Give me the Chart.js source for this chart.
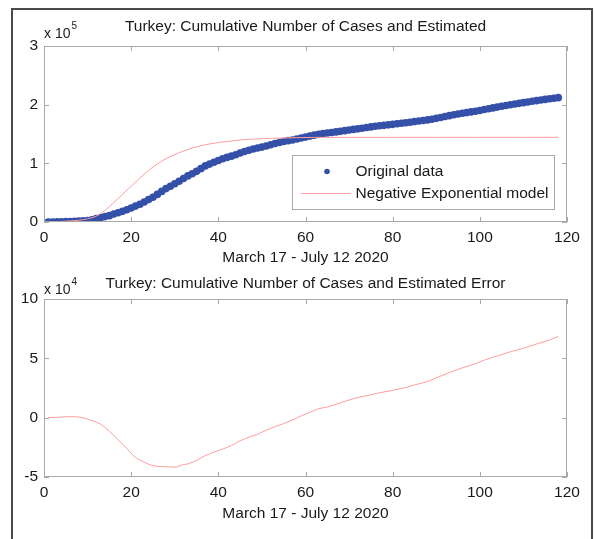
<!DOCTYPE html>
<html>
<head>
<meta charset="utf-8">
<title>Turkey cumulative cases</title>
<script src="https://cdn.jsdelivr.net/npm/chart.js@4.4.1/dist/chart.umd.min.js"></script>
<style>
  html, body { margin: 0; padding: 0; background: #fff; }
  #wrap { position: relative; width: 594px; height: 539px; overflow: hidden; background: #fff; }
  #frame { position: absolute; left: 11px; top: 8px; width: 582px; height: 600px; box-sizing: border-box; border: 2px solid #4a4a4a; }
  .panel { position: absolute; left: 0; width: 594px; }
</style>
</head>
<body>
<div id="wrap">
  <div id="frame"></div>
  <div class="panel" style="top:0;height:270px"><canvas id="casesChart" width="594" height="270"></canvas></div>
  <div class="panel" style="top:270px;height:269px"><canvas id="errorChart" width="594" height="269"></canvas></div>
</div>
<script>
// days since March 17 2020 (1 = Mar 17, 118 = Jul 12)
const days = [
  1, 2, 3, 4, 5, 6, 7, 8, 9, 10, 11, 12, 13, 14, 15, 16, 17, 18, 19, 20,
  21, 22, 23, 24, 25, 26, 27, 28, 29, 30, 31, 32, 33, 34, 35, 36, 37, 38, 39, 40,
  41, 42, 43, 44, 45, 46, 47, 48, 49, 50, 51, 52, 53, 54, 55, 56, 57, 58, 59, 60,
  61, 62, 63, 64, 65, 66, 67, 68, 69, 70, 71, 72, 73, 74, 75, 76, 77, 78, 79, 80,
  81, 82, 83, 84, 85, 86, 87, 88, 89, 90, 91, 92, 93, 94, 95, 96, 97, 98, 99, 100,
  101, 102, 103, 104, 105, 106, 107, 108, 109, 110, 111, 112, 113, 114, 115, 116, 117, 118
];
// cumulative confirmed cases
const cases = [
  47, 98, 191, 359, 670, 947, 1236, 1529, 1872, 2433,
  3629, 5698, 7402, 9217, 10827, 13531, 15679, 18135, 20921, 23934,
  27069, 30217, 34109, 38226, 42282, 47029, 52167, 56956, 61049, 65111,
  69392, 74193, 78546, 82329, 86306, 90980, 95591, 98674, 101790, 104912,
  107773, 110130, 112261, 114653, 117589, 120204, 122392, 124375, 126045, 127659,
  129491, 131744, 133721, 135569, 137115, 138657, 139771, 141475, 143114, 144749,
  146457, 148067, 149435, 150593, 151615, 152587, 153548, 154500, 155686, 156827,
  157814, 158762, 159797, 160979, 162120, 163103, 163942, 164769, 165555, 166422,
  167410, 168340, 169218, 170132, 171121, 172114, 173036, 174023, 175218, 176677,
  178239, 179831, 181298, 182727, 184031, 185245, 186493, 187685, 188897, 190165,
  191657, 193115, 194511, 195883, 197239, 198613, 199906, 201098, 202284, 203456,
  204610, 205758, 206844, 207897, 208938, 209962, 210965, 211981
];
// negative exponential model
const modelDays = [1, 4, 8, 10, 12, 14, 16, 18, 20, 22, 24, 26, 28, 30, 32, 34, 36, 38, 40, 43, 46, 50, 54, 58, 62, 70, 80, 90, 100, 110, 118];
const modelVals = [0, 1000, 3000, 5500, 10000, 20000, 33000, 47000, 61000, 75000, 88000, 99000, 108000, 115000, 121000, 126000,
  130000, 133000, 135500, 138000, 140500, 142000, 143000, 143800, 144200, 144300, 144400, 144400, 144400, 144400, 144400];
// estimation error
const errDays = [1, 3, 5, 7, 9, 11, 13, 15, 17, 19, 21, 23, 25, 27, 29, 30, 32, 33, 35, 37, 39, 41, 43, 45, 47, 49, 51,
  53, 55, 57, 59, 61, 63, 65, 68, 71, 74, 77, 80, 83, 86, 88, 90, 93, 96, 99, 101, 104, 107, 110, 113, 116, 118];
const errVals = [0, 300, 800, 800, -200, -2500, -5500, -11500, -18500, -26000, -33500, -37500, -40500, -41200, -41500, -41800,
  -39500, -39000, -36000, -32000, -29000, -26500, -23500, -19500, -16500, -14000, -10500, -7500, -5000, -2000, 1500, 4500,
  7500, 9000, 12500, 16000, 18500, 21000, 23000, 25500, 28500, 30500, 33500, 38000, 42000, 45500, 48500, 52000, 55500,
  58500, 62000, 65500, 68500];

const xLabel = 'March 17 - July 12 2020';
const FONT = '"Liberation Sans", Arial, Helvetica, sans-serif';
const axisColor = '#a9a9a9';
const textColor = '#1a1a1a';
const dotColor = '#3450a8';
const redColor = '#ff9c9c';

const toXY = (xs, ys) => xs.map((v, i) => ({ x: v, y: ys[i] }));

// box round the axes, inward ticks, "x 10^n" label and (optionally) the legend
const matlabAxes = {
  id: 'matlabAxes',
  afterDatasetsDraw(chart, args, opts) {
    const { ctx, chartArea: a, scales: { x, y } } = chart;
    ctx.save();
    ctx.strokeStyle = axisColor;
    ctx.lineWidth = 1;
    ctx.beginPath();
    x.ticks.forEach(t => {
      const px = Math.round(x.getPixelForValue(t.value)) + 0.5;
      ctx.moveTo(px, a.bottom); ctx.lineTo(px, a.bottom - 5);
      ctx.moveTo(px, a.top); ctx.lineTo(px, a.top + 5);
    });
    y.ticks.forEach(t => {
      const py = Math.round(y.getPixelForValue(t.value)) + 0.5;
      ctx.moveTo(a.left, py); ctx.lineTo(a.left + 5, py);
      ctx.moveTo(a.right, py); ctx.lineTo(a.right - 5, py);
    });
    ctx.stroke();
    ctx.strokeRect(Math.round(a.left) + 0.5, Math.round(a.top) + 0.5, Math.round(a.width) - 1, Math.round(a.height) - 1);

    // exponent label
    ctx.fillStyle = textColor;
    ctx.textBaseline = 'alphabetic';
    ctx.textAlign = 'left';
    ctx.font = '14px ' + FONT;
    const base = a.top - opts.expLift;
    ctx.fillText('x 10', a.left, base);
    const w = ctx.measureText('x 10').width;
    ctx.font = '10px ' + FONT;
    ctx.fillText(opts.exp, a.left + w + 1, base - 9);

    if (opts.legend) {
      const bw = 262, bh = 54;
      const bx = Math.round(a.right - 13 - bw) + 0.5;
      const by = Math.round(a.bottom - 13 - bh) + 0.5;
      ctx.fillStyle = '#fff';
      ctx.fillRect(bx, by, bw, bh);
      ctx.strokeStyle = axisColor;
      ctx.strokeRect(bx, by, bw, bh);
      const ds = chart.data.datasets;
      const dotSet = ds.find(d => !d.showLine);
      const lineSet = ds.find(d => d.showLine);
      // dot entry
      ctx.fillStyle = dotColor;
      ctx.beginPath();
      ctx.arc(bx + 34.5, by + 16, 2.8, 0, Math.PI * 2);
      ctx.fill();
      // line entry
      ctx.strokeStyle = redColor;
      ctx.beginPath();
      ctx.moveTo(bx + 9, by + 38); ctx.lineTo(bx + 58, by + 38);
      ctx.stroke();
      ctx.fillStyle = textColor;
      ctx.font = '15.5px ' + FONT;
      ctx.textBaseline = 'middle';
      ctx.fillText(dotSet.label, bx + 63, by + 16.5);
      ctx.fillText(lineSet.label, bx + 63, by + 38.5);
    }
    ctx.restore();
  }
};

function axesOptions(cfg) {
  return {
    responsive: false,
    animation: false,
    devicePixelRatio: 1,
    events: [],
    layout: { padding: { left: 0, right: 27, top: 0, bottom: cfg.padBottom } },
    plugins: {
      legend: { display: false },
      tooltip: { enabled: false },
      title: {
        display: true,
        text: cfg.title,
        fullSize: false,
        color: textColor,
        font: { family: FONT, size: 15.5, weight: 'normal' },
        padding: { top: cfg.titleTop, bottom: cfg.titleBottom }
      },
      matlabAxes: { exp: cfg.exp, expLift: cfg.expLift, legend: cfg.legend }
    },
    scales: {
      x: {
        type: 'linear',
        min: 0,
        max: 120,
        grid: { display: false, drawTicks: false },
        border: { display: false },
        ticks: {
          stepSize: 20,
          padding: 6,
          color: textColor,
          font: { family: FONT, size: 15.5 }
        },
        title: {
          display: true,
          text: xLabel,
          color: textColor,
          font: { family: FONT, size: 15.5 },
          padding: { top: 0, bottom: cfg.xTitlePad }
        },
        afterFit(scale) { scale.height = 48; }
      },
      y: {
        type: 'linear',
        min: cfg.yMin,
        max: cfg.yMax,
        grid: { display: false, drawTicks: false },
        border: { display: false },
        ticks: {
          stepSize: cfg.yStep,
          padding: 6,
          color: textColor,
          font: { family: FONT, size: 15.5 },
          callback: v => String(Math.round(v / cfg.yScale))
        },
        afterFit(scale) { scale.width = 44; }
      }
    }
  };
}

new Chart(document.getElementById('casesChart'), {
  type: 'scatter',
  data: {
    datasets: [
      {
        label: 'Original data',
        data: toXY(days, cases),
        showLine: false,
        pointRadius: 3.8,
        pointBorderWidth: 0,
        pointBackgroundColor: dotColor,
        backgroundColor: dotColor,
        order: 1
      },
      {
        label: 'Negative Exponential model',
        data: toXY(modelDays, modelVals),
        showLine: true,
        borderColor: redColor,
        borderWidth: 1,
        pointRadius: 0,
        cubicInterpolationMode: 'monotone',
        order: 0
      }
    ]
  },
  options: axesOptions({
    title: 'Turkey: Cumulative Number of Cases and Estimated',
    titleTop: 17.7, titleBottom: 9.7,
    padBottom: 0, xTitlePad: 3.2,
    yMin: 0, yMax: 300000, yStep: 100000, yScale: 1e5,
    exp: '5', expLift: 8, legend: true
  }),
  plugins: [matlabAxes]
});

new Chart(document.getElementById('errorChart'), {
  type: 'scatter',
  data: {
    datasets: [
      {
        label: 'Error',
        data: toXY(errDays, errVals),
        showLine: true,
        borderColor: redColor,
        borderWidth: 1,
        pointRadius: 0,
        cubicInterpolationMode: 'monotone'
      }
    ]
  },
  options: axesOptions({
    title: 'Turkey: Cumulative Number of Cases and Estimated Error',
    titleTop: 4.2, titleBottom: 6.2,
    padBottom: 14, xTitlePad: 1.7,
    yMin: -50000, yMax: 100000, yStep: 50000, yScale: 1e4,
    exp: '4', expLift: 5, legend: false
  }),
  plugins: [matlabAxes]
});
</script>
</body>
</html>
